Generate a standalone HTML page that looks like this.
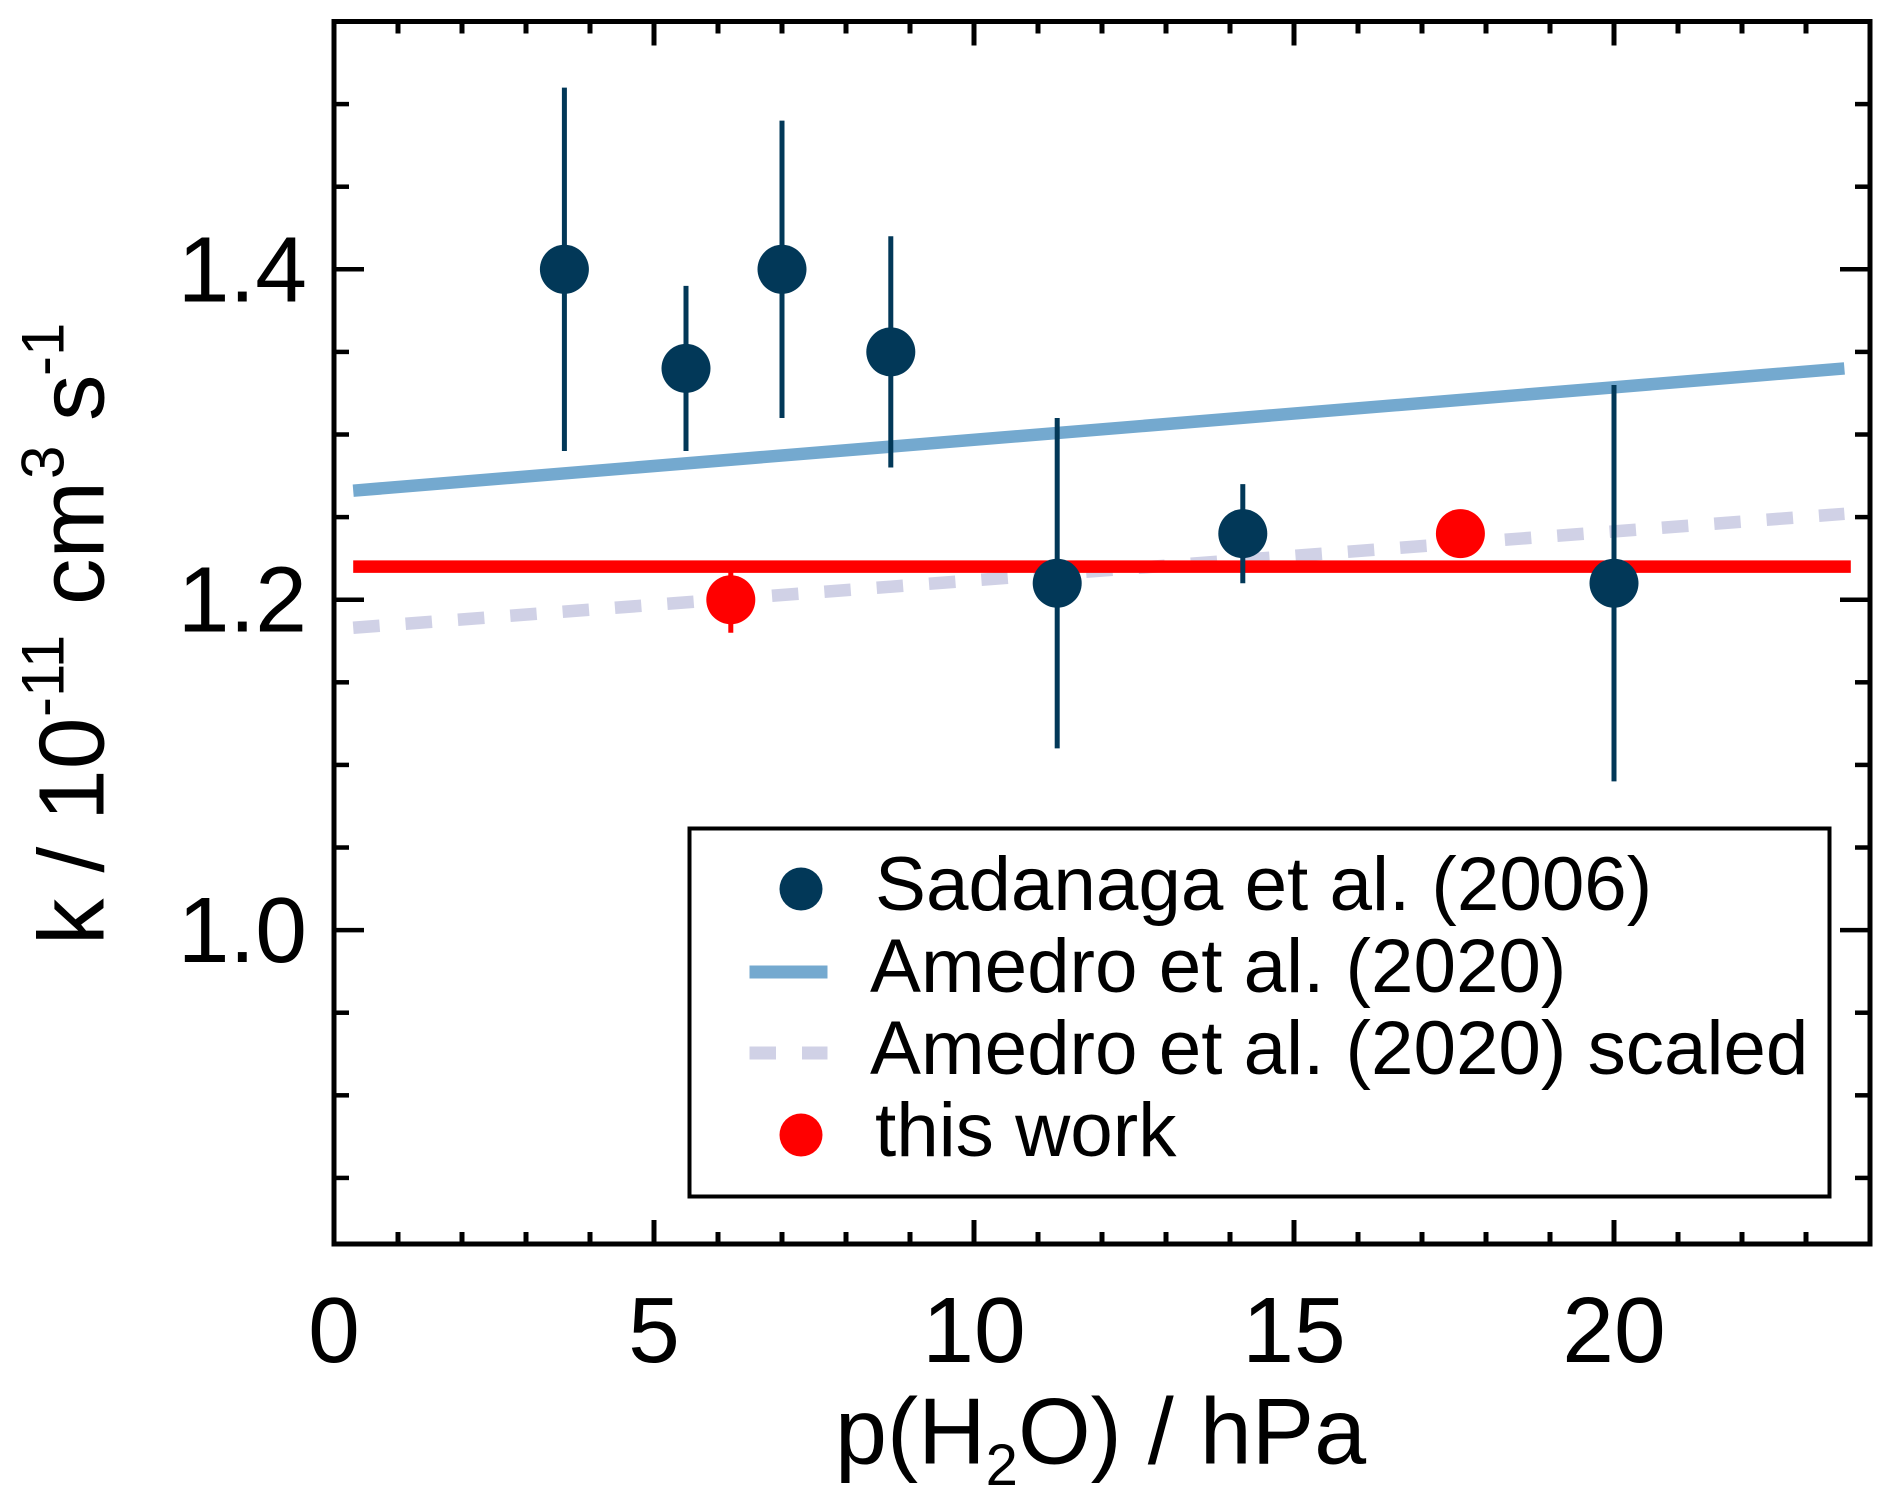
<!DOCTYPE html>
<html lang="en">
<head>
<meta charset="utf-8">
<title>k vs p(H2O)</title>
<style>
html,body{margin:0;padding:0;background:#fff;width:1892px;height:1505px;overflow:hidden}
svg{display:block}
text{font-family:"Liberation Sans",Arial,sans-serif;fill:#000}
</style>
</head>
<body>
<svg id="chart" xmlns="http://www.w3.org/2000/svg" width="1892" height="1505" viewBox="0 0 1892 1505">
  <rect x="0" y="0" width="1892" height="1505" fill="#fff"/>
  <g id="series"></g>
  <g id="axes"></g>
  <text x="835" y="1463.5" font-size="93.5">p(H<tspan font-size="58" dy="21.5">2</tspan><tspan dy="-21.5">O) / hPa</tspan></text>
  <text transform="translate(103.5,945) rotate(-90)" font-size="93"><tspan x="0" y="0">k / 10</tspan><tspan font-size="60" x="228" y="-40">-11</tspan><tspan x="340" y="0">cm</tspan><tspan font-size="60" x="466" y="-40">3</tspan><tspan x="524" y="0">s</tspan><tspan font-size="60" x="569" y="-40">-1</tspan></text>
  <g>
    <rect x="689.5" y="828.5" width="1140" height="368" fill="#fff" stroke="#000" stroke-width="4"/>
    <circle cx="801" cy="889" r="21.5" fill="#023858"/>
    <text x="875" y="910" font-size="76.4">Sadanaga et al. (2006)</text>
    <line x1="749.5" y1="972" x2="827.5" y2="972" stroke="#74a9cf" stroke-width="13"/>
    <text x="870" y="992" font-size="76.4">Amedro et al. (2020)</text>
    <line x1="749.5" y1="1053" x2="827.5" y2="1053" stroke="#d0d1e6" stroke-width="13" stroke-dasharray="26.5 26"/>
    <text x="870" y="1074" font-size="76.4">Amedro et al. (2020) scaled</text>
    <circle cx="801" cy="1135" r="21.5" fill="#ff0000"/>
    <text x="875" y="1156" font-size="76.4">this work</text>
  </g>
</svg>
<script>
// Data
const sadanagaX = [3.6, 5.5, 7.0, 8.7, 11.3, 14.2, 20.0];
const sadanagaY = [1.40, 1.34, 1.40, 1.35, 1.21, 1.24, 1.21];
const sadanagaErr = [0.11, 0.05, 0.09, 0.07, 0.10, 0.03, 0.12];
const thisWorkX = [6.2, 17.6];
const thisWorkY = [1.20, 1.24];
const thisWorkErr = [0.02, 0.01];
const amedroX = [0.3, 23.6];
const amedroY = [1.266, 1.34];
const amedroScaledX = [0.3, 23.6];
const amedroScaledY = [1.183, 1.252];
const thisWorkFitX = [0.3, 23.7];
const thisWorkFitY = [1.22, 1.22];
const xMajorTicks = [0, 5, 10, 15, 20];
const xMinorTicks = [1, 2, 3, 4, 6, 7, 8, 9, 11, 12, 13, 14, 16, 17, 18, 19, 21, 22, 23];
const yMajorTicks = [1.0, 1.2, 1.4];
const yMinorTicks = [0.85, 0.9, 0.95, 1.05, 1.1, 1.15, 1.25, 1.3, 1.35, 1.45, 1.5];
const xTickLabels = ["0", "5", "10", "15", "20"];
const yTickLabels = ["1.0", "1.2", "1.4"];
const xDomain = [0, 24];
const yDomain = [0.81, 1.55];

const plotLeft = 334, plotRight = 1870, plotTop = 21.5, plotBottom = 1244;
function xScale(v) { return plotLeft + (v - xDomain[0]) / (xDomain[1] - xDomain[0]) * (plotRight - plotLeft); }
function yScale(v) { return plotBottom - (v - yDomain[0]) / (yDomain[1] - yDomain[0]) * (plotBottom - plotTop); }

const NS = 'http://www.w3.org/2000/svg';
function make(parent, tag, attrs) {
  const el = document.createElementNS(NS, tag);
  for (const k in attrs) el.setAttribute(k, attrs[k]);
  parent.appendChild(el);
  return el;
}
const seriesG = document.getElementById('series');
const axesG = document.getElementById('axes');

function drawLine(xs, ys, color, dash, name) {
  const attrs = { x1: xScale(xs[0]), y1: yScale(ys[0]), x2: xScale(xs[1]), y2: yScale(ys[1]), stroke: color, 'stroke-width': 12.5 };
  if (dash) attrs['stroke-dasharray'] = dash;
  const el = make(seriesG, 'line', attrs);
  
  
}
drawLine(amedroX, amedroY, '#74a9cf', null, 'amedro-line');
drawLine(amedroScaledX, amedroScaledY, '#d0d1e6', '26.5 26', 'amedro-scaled-line');
drawLine(thisWorkFitX, thisWorkFitY, '#ff0000', null, 'this-work-line');

function drawPoints(xs, ys, errs, color, prefix) {
  xs.forEach(function (x, i) {
    const bar = make(seriesG, 'line', { x1: xScale(x), x2: xScale(x), y1: yScale(ys[i] + errs[i]), y2: yScale(ys[i] - errs[i]), stroke: color, 'stroke-width': 5 });
    
    
    const dot = make(seriesG, 'circle', { cx: xScale(x), cy: yScale(ys[i]), r: 24.5, fill: color });
    
    
  });
}
drawPoints(sadanagaX, sadanagaY, sadanagaErr, '#023858', 'sadanaga');
drawPoints(thisWorkX, thisWorkY, thisWorkErr, '#ff0000', 'this-work');

function xTick(v, len, name) {
  [[plotBottom, plotBottom - len], [plotTop, plotTop + len]].forEach(function (p) {
    const t = make(axesG, 'line', { x1: xScale(v), x2: xScale(v), y1: p[0], y2: p[1], stroke: '#000', 'stroke-width': 5 });
    
    
  });
}
function yTick(v, len, name) {
  [[plotLeft, plotLeft + len], [plotRight, plotRight - len]].forEach(function (p) {
    const t = make(axesG, 'line', { y1: yScale(v), y2: yScale(v), x1: p[0], x2: p[1], stroke: '#000', 'stroke-width': 4.5 });
    
    
  });
}
xMinorTicks.forEach(function (v) { xTick(v, 12, 'x-minor-tick'); });
xMajorTicks.forEach(function (v) { xTick(v, 24, 'x-major-tick'); });
yMinorTicks.forEach(function (v) { yTick(v, 15, 'y-minor-tick'); });
yMajorTicks.forEach(function (v) { yTick(v, 30, 'y-major-tick'); });

const frame = make(axesG, 'rect', { x: plotLeft, y: plotTop, width: plotRight - plotLeft, height: plotBottom - plotTop, fill: 'none', stroke: '#000', 'stroke-width': 5 });



xMajorTicks.forEach(function (v, i) {
  const t = make(axesG, 'text', { x: xScale(v), y: 1362, 'font-size': 93, 'text-anchor': 'middle' });
  t.textContent = xTickLabels[i];
  
  
});
yMajorTicks.forEach(function (v, i) {
  const t = make(axesG, 'text', { x: 307, y: yScale(v) + 32, 'font-size': 93, 'text-anchor': 'end' });
  t.textContent = yTickLabels[i];
  
  
});
</script>
</body>
</html>
